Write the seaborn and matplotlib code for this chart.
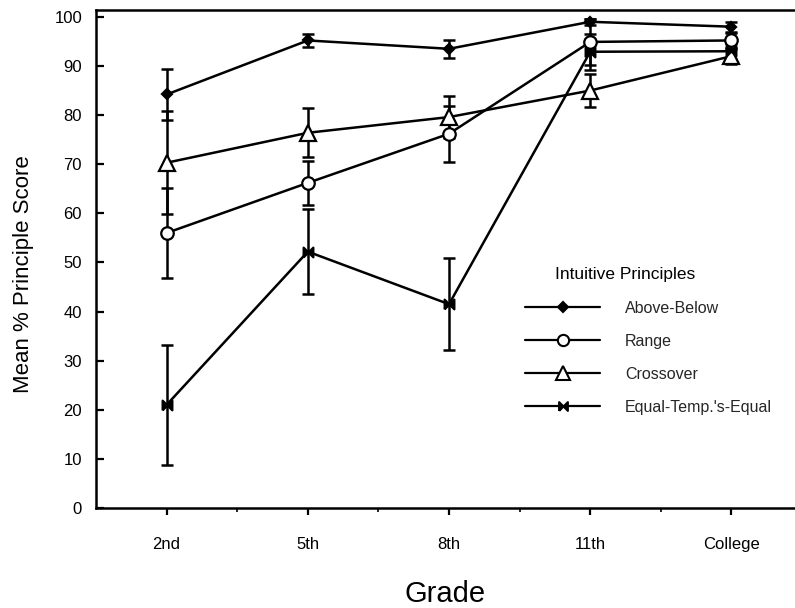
import matplotlib
matplotlib.use("Agg")
import matplotlib.pyplot as plt
import seaborn as sns
import pandas as pd
from matplotlib.lines import Line2D

# ---- data ----
grades = ["2nd", "5th", "8th", "11th", "College"]
principles = ["Above-Below", "Range", "Crossover", "Equal-Temp.'s-Equal"]

above_below = [84.2, 95.2, 93.5, 99.0, 98.0]
above_below_err = [5.2, 1.4, 1.8, 0.6, 1.0]
range_vals = [56.0, 66.2, 76.2, 94.9, 95.2]
range_err = [9.2, 4.5, 5.7, 4.7, 1.5]
crossover = [70.3, 76.4, 79.6, 85.0, 92.0]
crossover_err = [10.5, 5.0, 4.3, 3.4, 1.5]
equal_temp = [21.0, 52.2, 41.5, 92.9, 93.0]
equal_temp_err = [12.2, 8.6, 9.4, 3.7, 1.5]

yticks = [0, 10, 20, 30, 40, 50, 60, 70, 80, 90, 100]

series = {
    "Above-Below": (above_below, above_below_err),
    "Range": (range_vals, range_err),
    "Crossover": (crossover, crossover_err),
    "Equal-Temp.'s-Equal": (equal_temp, equal_temp_err),
}

rows = []
for name, (vals, errs) in series.items():
    for g, v, e in zip(grades, vals, errs):
        rows.append({"Grade": g, "Score": v, "Err": e, "Principle": name})
df = pd.DataFrame(rows)

# ---- style ----
sns.set_theme(style="ticks")
plt.rcParams["font.family"] = ["Liberation Sans", "DejaVu Sans"]

bowtie = [(-1, -1), (1, 1), (1, -1), (-1, 1), (-1, -1)]
markers = {"Above-Below": "D", "Range": "o", "Crossover": "^",
           "Equal-Temp.'s-Equal": bowtie}
msizes = {"Above-Below": 5.5, "Range": 9, "Crossover": 11.5,
          "Equal-Temp.'s-Equal": 7}
mfc = {"Above-Below": "black", "Range": "white", "Crossover": "white",
       "Equal-Temp.'s-Equal": "black"}

fig = plt.figure(figsize=(7.95, 6.08), dpi=100)
ax = fig.add_axes([96 / 795, 1 - 508 / 608, 1 - 96 / 795, (508 - 10) / 608])

# error bars (behind markers)
for name in principles:
    sub = df[df["Principle"] == name]
    ax.errorbar(sub["Grade"], sub["Score"], yerr=sub["Err"], fmt="none",
                ecolor="black", elinewidth=1.8, capsize=4, capthick=1.8,
                zorder=2)

# lines + markers via seaborn
for name in principles:
    sub = df[df["Principle"] == name]
    sns.lineplot(data=sub, x="Grade", y="Score", ax=ax, color="black",
                 linewidth=1.8, marker=markers[name], markersize=msizes[name],
                 markerfacecolor=mfc[name], markeredgecolor="black",
                 markeredgewidth=1.6, errorbar=None, sort=False, zorder=3,
                 legend=False)

ax.set_xlim(-0.5, 4.45)
ax.set_ylim(0, 101.4)
ax.set_yticks(yticks)
ax.set_yticklabels([str(t) for t in yticks])
ax.set_xticks(range(len(grades)))
ax.set_xticklabels(grades)
ax.set_xticks([0.5, 1.5, 2.5, 3.5], minor=True)

for s in ["left", "bottom", "top"]:
    ax.spines[s].set_color("black")
    ax.spines[s].set_linewidth(1.8)
ax.spines["right"].set_visible(False)

ax.tick_params(axis="y", direction="in", length=6, width=1.6, pad=10,
               labelsize=12, colors="black")
ax.tick_params(axis="x", which="major", direction="out", length=5, width=1.6,
               pad=16, labelsize=12, colors="black")
ax.tick_params(axis="x", which="minor", direction="out", length=3, width=1.4)

ax.set_xlabel("Grade", fontsize=21, labelpad=20, color="black")
ax.set_ylabel("Mean % Principle Score", fontsize=16, color="black")
ax.yaxis.set_label_coords(-0.088, 0.47)

# legend
handles = [Line2D([], [], color="black", linewidth=1.6, marker=markers[n],
                  markersize=msizes[n] * 0.9, markerfacecolor=mfc[n],
                  markeredgecolor="black", markeredgewidth=1.5)
           for n in principles]
leg = ax.legend(handles, principles, loc="upper left",
                bbox_to_anchor=(525 / 795, 1 - 301 / 608),
                bbox_transform=fig.transFigure, frameon=False,
                fontsize=11.5, handlelength=4.7, handletextpad=1.55,
                labelspacing=1.12, borderaxespad=0, borderpad=0)
fig.text(555 / 795, 1 - 275 / 608, "Intuitive Principles", fontsize=12.5,
         ha="left", va="center", color="black")

fig.savefig("out.png", dpi=100, facecolor="white")
